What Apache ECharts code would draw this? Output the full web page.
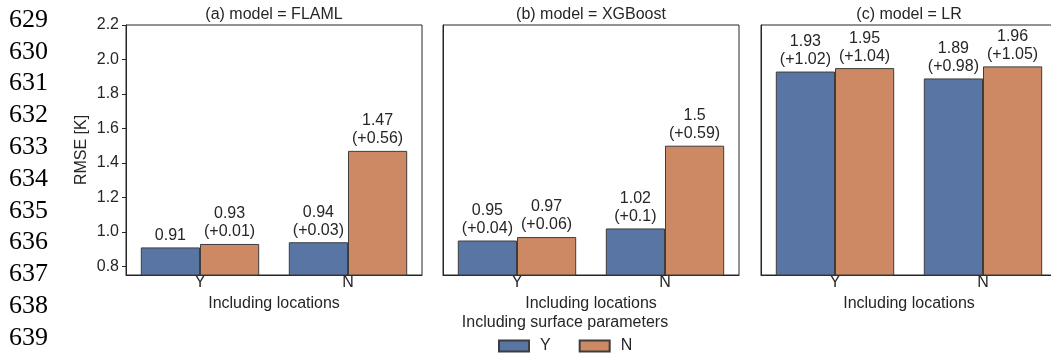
<!DOCTYPE html>
<html>
<head>
<meta charset="utf-8">
<script src="https://cdn.jsdelivr.net/npm/echarts@6/dist/echarts.min.js"></script>
<style>
html,body{margin:0;padding:0;background:#fff;}
#c{width:1051px;height:356px;}
</style>
</head>
<body>
<div id="c"></div>
<script>
// ---- data ----
const locationCats = ['Y', 'N'];             // Including locations
const surfaceNames = ['Y', 'N'];             // Including surface parameters
const panelTitles = ['(a) model = FLAML', '(b) model = XGBoost', '(c) model = LR'];
const yTicks = [0.8, 1.0, 1.2, 1.4, 1.6, 1.8, 2.0, 2.2];
const lineNumbers = ['629','630','631','632','633','634','635','636','637','638','639'];

// RMSE values per model; index = location Y / N
const flamlSurfY = [0.91, 0.94];
const flamlSurfN = [0.93, 1.47];
const xgbSurfY = [0.95, 1.02];
const xgbSurfN = [0.97, 1.5];
const lrSurfY = [1.93, 1.89];
const lrSurfN = [1.95, 1.96];
// differences relative to baseline (null = baseline bar)
const flamlSurfYDiff = [null, 0.03];
const flamlSurfNDiff = [0.01, 0.56];
const xgbSurfYDiff = [0.04, 0.1];
const xgbSurfNDiff = [0.06, 0.59];
const lrSurfYDiff = [1.02, 0.98];
const lrSurfNDiff = [1.04, 1.05];

const panels = [
  [flamlSurfY, flamlSurfN, flamlSurfYDiff, flamlSurfNDiff],
  [xgbSurfY, xgbSurfN, xgbSurfYDiff, xgbSurfNDiff],
  [lrSurfY, lrSurfN, lrSurfYDiff, lrSurfNDiff]
];

// ---- style ----
const FONT = '"Liberation Sans", Arial, sans-serif';
const TXT = '#262626';
const BLUE = '#5975a4';
const ORANGE = '#cc8963';
const EDGE = '#3d3d3d';
const gridLefts = [126, 443, 761];
const GW = 296, GTOP = 25, GH = 250;
const FS = 16;

const grids = gridLefts.map(l => ({
  left: l, top: GTOP, width: GW, height: GH, outerBoundsMode: 'none', containLabel: false,
  show: true, borderColor: TXT, borderWidth: 1, backgroundColor: 'transparent'
}));

const xAxes = gridLefts.map((l, i) => ({
  type: 'category', gridIndex: i, data: locationCats,
  name: 'Including locations', nameLocation: 'middle', nameGap: 16,
  nameTextStyle: {fontFamily: FONT, fontSize: FS, color: TXT},
  axisLine: {show: true, lineStyle: {color: TXT, width: 1}},
  axisTick: {show: false},
  axisLabel: {fontFamily: FONT, fontSize: FS, color: TXT, margin: 0}
}));

const yAxes = gridLefts.map((l, i) => ({
  type: 'value', gridIndex: i, min: 0.75, max: 2.2,
  name: i === 0 ? 'RMSE [K]' : '', nameLocation: 'middle', nameGap: 36, nameRotate: 90,
  nameTextStyle: {fontFamily: FONT, fontSize: FS, color: TXT},
  splitLine: {show: false},
  axisLine: {show: true, lineStyle: {color: TXT, width: 1}},
  axisTick: {show: i === 0, length: 4, customValues: yTicks, lineStyle: {color: TXT}},
  axisLabel: {show: i === 0, customValues: yTicks, fontFamily: FONT, fontSize: FS, color: TXT, margin: 7,
    formatter: v => Number(v).toFixed(1)}
}));

function fmtLabel(diffArr) {
  return p => {
    const d = diffArr[p.dataIndex];
    const v = String(p.value);
    return d === null ? v : v + '\n(+' + String(d) + ')';
  };
}

const series = [];
panels.forEach((pd, i) => {
  [0, 1].forEach(k => {
    series.push({
      type: 'bar', name: surfaceNames[k], xAxisIndex: i, yAxisIndex: i,
      data: pd[k], barGap: '0%', barCategoryGap: '20%',
      itemStyle: {color: k === 0 ? BLUE : ORANGE, borderColor: EDGE, borderWidth: 1},
      label: {show: true, position: 'top', distance: 3, fontFamily: FONT, fontSize: FS,
        lineHeight: 18, color: TXT, formatter: fmtLabel(pd[k + 2])},
      emphasis: {disabled: true}, animation: false
    });
  });
});

const titles = panelTitles.map((t, i) => ({
  text: t, left: gridLefts[i] + GW / 2, top: 7, textAlign: 'center', padding: 0,
  textStyle: {fontFamily: FONT, fontSize: FS, fontWeight: 'normal', color: TXT}
}));
titles.push({
  text: 'Including surface parameters', left: 565, top: 315, textAlign: 'center', padding: 0,
  textStyle: {fontFamily: FONT, fontSize: FS, fontWeight: 'normal', color: TXT}
});

const graphics = lineNumbers.map((n, i) => ({
  type: 'text', left: 9, top: 20 + 31.8 * i - 13,
  style: {text: n, fontFamily: '"Liberation Serif", "DejaVu Serif", serif', fontSize: 26, fill: '#000'}
}));

const chart = echarts.init(document.getElementById('c'), null, {renderer: 'canvas'});
chart.setOption({
  backgroundColor: '#fff',
  animation: false,
  title: titles,
  grid: grids,
  xAxis: xAxes,
  yAxis: yAxes,
  legend: {
    data: surfaceNames, left: 498, top: 338, padding: 0,
    itemWidth: 30, itemHeight: 11, itemGap: 28, icon: 'rect',
    textStyle: {fontFamily: FONT, fontSize: FS, color: TXT, padding: [0, 0, 0, 6]},
    selectedMode: false
  },
  graphic: graphics,
  series: series
});
</script>
</body>
</html>
